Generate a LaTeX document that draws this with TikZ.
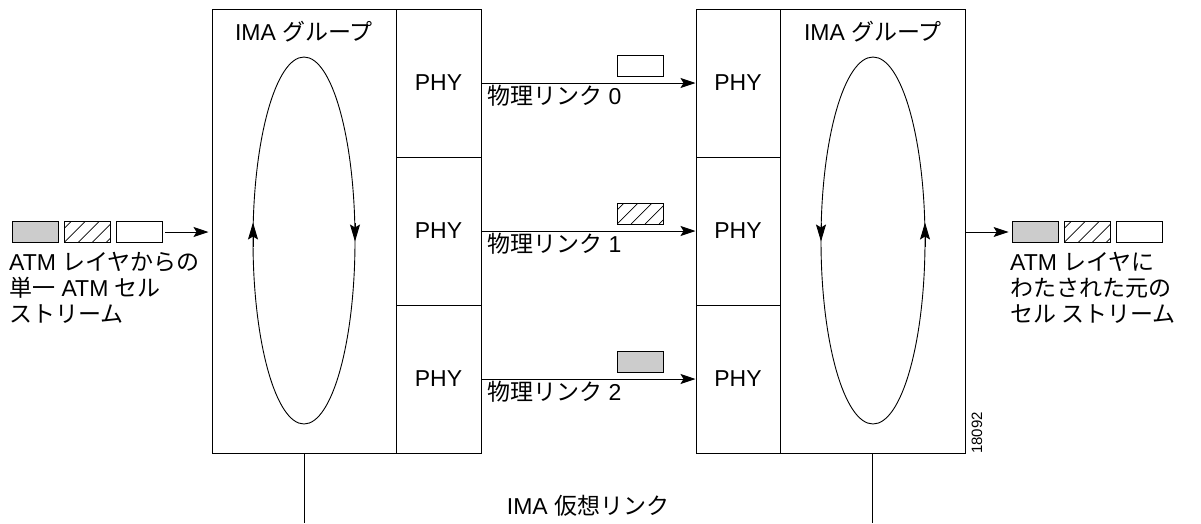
\documentclass[tikz,border=0pt]{standalone}
\usepackage{fontspec}
\setmainfont{Liberation Sans}
\newfontfamily\jp{Noto Sans CJK JP}
\usetikzlibrary{arrows.meta}
\begin{document}
\begin{tikzpicture}[x=1pt,y=-1pt,
  box/.style={draw, line width=1pt, inner sep=0pt},
  txt/.style={font=\fontsize{23}{26}\selectfont, inner sep=0pt},
  cell/.style={draw, line width=0.8pt, minimum width=46pt, minimum height=21pt, inner sep=0pt},
  gcell/.style={cell, fill=black!20},
  hcell/.style={cell, path picture={\foreach \i in {-28,-14,...,42} \draw[line width=0.7pt] ([xshift=\i pt]path picture bounding box.south west) -- ++(30pt,30pt);}},
  arr/.style={line width=1pt, -{Stealth[length=15pt,width=10pt,inset=3pt]}},
  earr/.style={line width=0.9pt, -{Stealth[length=17pt,width=10pt,inset=3pt]}},
  ell/.style={line width=0.9pt}]
\useasboundingbox (0,0) rectangle (1201,523);
% left group
\node[box, minimum width=184pt, minimum height=444pt] (lima) at (304,231) {};
\node[box, txt, minimum width=85pt, minimum height=148pt] (lp0) at (438.5,83) {PHY};
\node[box, txt, minimum width=85pt, minimum height=148pt] (lp1) at (438.5,231) {PHY};
\node[box, txt, minimum width=85pt, minimum height=148pt] (lp2) at (438.5,379) {PHY};
\node[txt] (limat) at (304,32) {IMA {\jp グループ}};
% right group
\node[box, txt, minimum width=84pt, minimum height=148pt] (rp0) at (738,83) {PHY};
\node[box, txt, minimum width=84pt, minimum height=148pt] (rp1) at (738,231) {PHY};
\node[box, txt, minimum width=84pt, minimum height=148pt] (rp2) at (738,379) {PHY};
\node[box, minimum width=185pt, minimum height=444pt] (rima) at (872.5,231) {};
\node[txt] (rimat) at (873,32) {IMA {\jp グループ}};
% ellipses
\coordinate (lc) at (304,240.5);
\coordinate (rc) at (873,240.5);
\draw[ell] (lc) ellipse [x radius=51, y radius=183.5];
\draw[ell] (rc) ellipse [x radius=52, y radius=183.5];
\draw[earr] ([xshift=-51pt,yshift=-6pt]lc) -- ([xshift=-51pt,yshift=18pt]lc);
\draw[earr] ([xshift=51pt,yshift=18pt]lc) -- ([xshift=51pt,yshift=-1pt]lc);
\draw[earr] ([xshift=-52pt,yshift=18pt]rc) -- ([xshift=-52pt,yshift=-1pt]rc);
\draw[earr] ([xshift=52pt,yshift=-6pt]rc) -- ([xshift=52pt,yshift=18pt]rc);
% input cells
\node[gcell] (lg) at (35,232) {};
\node[hcell] (lh) at (87,232) {};
\node[cell] (lw) at (139,232) {};
\draw[arr, shorten <=3pt, shorten >=3pt] (lw.east) -- (lw.east -| lima.west);
\node[txt, anchor=north west, align=left] (ltxt) at (9,252) {ATM {\jp レイヤからの}\\{\jp 単一} ATM {\jp セル}\\{\jp ストリーム}};
% output cells
\node[gcell] (rg) at (1035,232) {};
\node[hcell] (rh) at (1087,232) {};
\node[cell] (rw) at (1139,232) {};
\draw[arr, shorten >=3pt] (rg.west -| rima.east) -- (rg.west);
\node[txt, anchor=north west, align=left] (rtxt) at (1010,252) {ATM {\jp レイヤに}\\{\jp わたされた元の}\\{\jp セル ストリーム}};
% links
\draw[arr] (lp0) -- (rp0);
\draw[arr] (lp1) -- (rp1);
\draw[arr] (lp2) -- (rp2);
\node[cell] (c0) at (640,66) {};
\node[hcell] (c1) at (640,213.5) {};
\node[gcell] (c2) at (640,362) {};
\node[txt, anchor=base west] (l0) at (487,104) {{\jp 物理リンク} 0};
\node[txt, anchor=base west] (l1) at (487,252) {{\jp 物理リンク} 1};
\node[txt, anchor=base west] (l2) at (487,400) {{\jp 物理リンク} 2};
% virtual link
\coordinate (lb) at (304,523);
\coordinate (rb) at (872.5,523);
\draw[line width=1pt] (lima.south) -- (lb);
\draw[line width=1pt] (rima.south) -- (rb);
\node[txt] (vl) at (588,506) {IMA {\jp 仮想リンク}};
\node[font=\fontsize{15}{15}\selectfont, rotate=90, inner sep=0pt] (fig) at (977,433) {18092};
\end{tikzpicture}
\end{document}
